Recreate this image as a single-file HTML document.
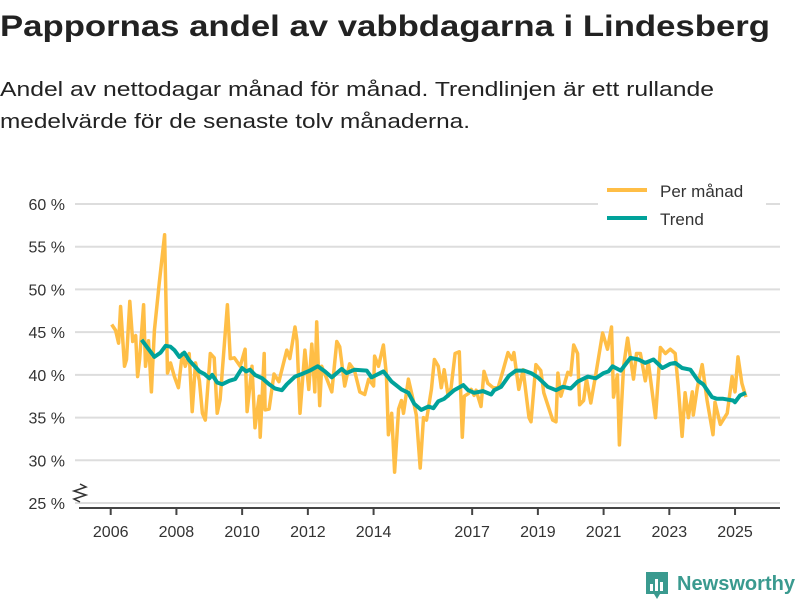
<!DOCTYPE html>
<html><head><meta charset="utf-8">
<style>
html,body{margin:0;padding:0;background:#fff;width:800px;height:600px;overflow:hidden}
svg{display:block;font-family:"Liberation Sans","DejaVu Sans",sans-serif}
</style></head>
<body>
<svg id="chart" width="800" height="600" viewBox="0 0 800 600">
<text x="0" y="36" font-size="30" font-weight="bold" fill="#222" textLength="770" lengthAdjust="spacingAndGlyphs">Pappornas andel av vabbdagarna i Lindesberg</text>
<text x="0" y="96" font-size="20.5" fill="#222" textLength="714" lengthAdjust="spacingAndGlyphs">Andel av nettodagar månad för månad. Trendlinjen är ett rullande</text>
<text x="0" y="128" font-size="20.5" fill="#222" textLength="470" lengthAdjust="spacingAndGlyphs">medelvärde för de senaste tolv månaderna.</text>
<g id="grid"></g>
<g id="yticks"></g>
<g id="xticks"></g>
<path d="M80,484 L86,487 L74,491 L86,495 L74,499 L80,502" fill="none" stroke="#333" stroke-width="1.5"/>
<g id="series"></g>
<g>
<rect x="598" y="174" width="168" height="60" fill="#fff"/>
<line x1="607" y1="190" x2="647" y2="190" stroke="#FFBE46" stroke-width="4"/>
<text x="660" y="197" font-size="17" fill="#333">Per månad</text>
<line x1="607" y1="218" x2="647" y2="218" stroke="#00A29A" stroke-width="4"/>
<text x="660" y="225" font-size="17" fill="#333">Trend</text>
</g>
<g>
<path d="M646,572 h22 v22 h-8 l-3,5 l-3,-5 h-8 z" fill="#3A9A8F"/>
<rect x="650" y="584" width="3" height="7" fill="#fff"/><rect x="655" y="579" width="3" height="12" fill="#fff"/><rect x="660" y="582" width="3" height="9" fill="#fff"/>
<text x="677" y="590" font-size="20" font-weight="bold" fill="#3A9A8F" textLength="118" lengthAdjust="spacingAndGlyphs">Newsworthy</text>
</g>
</svg>
<script>
const yTicks=[25,30,35,40,45,50,55,60];
const yTickLabels=["25 %","30 %","35 %","40 %","45 %","50 %","55 %","60 %"];
const xTicks=[2006,2008,2010,2012,2014,2017,2019,2021,2023,2025];
const xTickLabels=["2006","2008","2010","2012","2014","2017","2019","2021","2023","2025"];
const monthDates=[2006.03,2006.15,2006.24,2006.30,2006.42,2006.48,2006.58,2006.67,2006.76,2006.82,2006.88,2007.00,2007.06,2007.15,2007.24,2007.33,2007.48,2007.64,2007.73,2007.82,2007.94,2008.06,2008.18,2008.27,2008.39,2008.48,2008.58,2008.70,2008.79,2008.88,2009.03,2009.15,2009.24,2009.33,2009.55,2009.64,2009.76,2009.94,2010.09,2010.15,2010.30,2010.39,2010.52,2010.55,2010.67,2010.70,2010.82,2010.97,2011.12,2011.36,2011.45,2011.61,2011.67,2011.76,2011.91,2012.03,2012.12,2012.21,2012.27,2012.36,2012.42,2012.58,2012.73,2012.88,2012.97,2013.12,2013.27,2013.42,2013.58,2013.73,2013.85,2014.00,2014.03,2014.15,2014.30,2014.39,2014.45,2014.55,2014.64,2014.76,2014.85,2014.91,2015.06,2015.21,2015.30,2015.42,2015.52,2015.61,2015.76,2015.85,2015.97,2016.06,2016.15,2016.27,2016.36,2016.48,2016.61,2016.70,2016.76,2016.88,2016.97,2017.06,2017.12,2017.27,2017.36,2017.48,2017.64,2017.79,2017.94,2018.09,2018.21,2018.27,2018.42,2018.55,2018.73,2018.79,2018.94,2019.09,2019.18,2019.45,2019.55,2019.61,2019.70,2019.91,2020.00,2020.09,2020.21,2020.27,2020.39,2020.48,2020.61,2020.76,2020.97,2021.12,2021.24,2021.30,2021.42,2021.48,2021.61,2021.73,2021.91,2022.00,2022.12,2022.27,2022.36,2022.58,2022.73,2022.88,2023.03,2023.18,2023.27,2023.39,2023.48,2023.58,2023.70,2023.73,2023.85,2024.00,2024.15,2024.33,2024.39,2024.55,2024.76,2024.91,2025.00,2025.09,2025.21,2025.33];
const monthValues=[45.9,45.2,43.7,48,41,41.8,48.6,43.9,44.6,39.8,41.8,48.2,41,44,38,45.2,50.8,56.4,40.2,41.4,39.8,38.5,42.5,41,42.5,35.7,41.4,39.3,35.5,34.7,42.5,42,35.5,37.1,48.2,41.9,42,41,43,35.7,41,33.8,37.5,32.7,42.5,35.9,36,40.1,39.2,42.9,41.9,45.6,44,35.5,42.9,38.3,43.6,38,46.2,36.4,41,39.5,38,43.9,43.3,38.7,41.3,40.5,38,37.7,39.5,38.7,42.2,41,43.5,40,33,35.5,28.6,36,37,35.5,39.5,37,35.3,29.1,35,34.7,38.3,41.8,41,38.5,40.6,37.5,38.5,42.5,42.7,32.7,37.5,37.8,38.3,37.6,38.2,36.3,40.4,39,38.5,38.5,40.5,42.6,41.8,42.6,38.3,40.6,35,34.5,41.2,40.5,37.9,34.7,34.5,40.2,37.5,40.3,40,43.5,42.5,36.5,37,39.5,36.7,40,44.9,43,45.6,37.4,40,31.8,41,44.3,39.5,42.5,42.5,39.3,41.5,35,43.2,42.5,43,42.5,38.7,32.8,37.9,35,38,35.3,38.5,41.2,37,33,36.8,34.2,35.5,39.8,38,42.1,39,37.4];
const trendDates=[2006.94,2007.33,2007.52,2007.67,2007.82,2007.94,2008.09,2008.24,2008.39,2008.70,2008.85,2009.00,2009.09,2009.24,2009.39,2009.61,2009.79,2010.00,2010.12,2010.24,2010.39,2010.61,2010.82,2011.00,2011.21,2011.36,2011.61,2011.82,2012.06,2012.30,2012.52,2012.73,2013.03,2013.18,2013.42,2013.79,2013.94,2014.30,2014.55,2014.85,2015.06,2015.24,2015.45,2015.67,2015.82,2015.97,2016.15,2016.45,2016.73,2016.88,2017.06,2017.33,2017.58,2017.67,2017.88,2018.12,2018.33,2018.58,2018.79,2019.00,2019.30,2019.55,2019.76,2020.00,2020.21,2020.52,2020.76,2021.00,2021.15,2021.27,2021.52,2021.82,2022.06,2022.27,2022.52,2022.79,2023.03,2023.18,2023.39,2023.64,2023.88,2024.03,2024.30,2024.45,2024.64,2024.94,2025.00,2025.15,2025.33];
const trendValues=[44.1,42.1,42.6,43.4,43.3,42.9,42.1,42.6,41.7,40.4,40.1,39.6,40,39.1,38.9,39.3,39.5,40.8,40.4,40.6,40,39.6,38.9,38.4,38.2,38.9,39.8,40.1,40.5,41,40.4,39.7,40.7,40.2,40.6,40.5,39.7,40.4,39.2,38.3,37.9,36.6,35.9,36.3,36.1,36.9,37.2,38.2,38.8,38.2,37.9,38.1,37.7,38.2,38.6,39.9,40.5,40.5,40.2,39.7,38.6,38.2,38.6,38.4,39.2,39.8,39.6,40.2,40.4,41,40.5,42,41.8,41.4,41.8,40.8,41.3,41.4,40.8,40.6,39.3,38.9,37.4,37.2,37.2,37,36.8,37.6,37.9];

const NS='http://www.w3.org/2000/svg';
function X(yr){return 110.7+(yr-2006)*32.86;}
function Y(v){return 503-(v-25)*(299/35);}
function mk(tag,attrs,parent){const e=document.createElementNS(NS,tag);for(const k in attrs)e.setAttribute(k,attrs[k]);parent.appendChild(e);return e;}
const grid=document.getElementById('grid'),yt=document.getElementById('yticks'),xt=document.getElementById('xticks'),ser=document.getElementById('series');
yTicks.forEach((v,i)=>{
  const l=mk('line',{x1:75,x2:780,y1:Y(v),y2:Y(v),stroke:'#dddddd','stroke-width':2},grid);
  
  
  const t=mk('text',{x:65,y:Y(v)+6,'text-anchor':'end','font-size':16,fill:'#333'},yt);
  t.textContent=yTickLabels[i];
  
  
});
const ax=mk('line',{x1:79,x2:780,y1:508,y2:508,stroke:'#444','stroke-width':2},xt);


xTicks.forEach((yr,i)=>{
  const tk=mk('line',{x1:X(yr),x2:X(yr),y1:508,y2:515,stroke:'#444','stroke-width':2},xt);
  
  
  const t=mk('text',{x:X(yr),y:537,'text-anchor':'middle','font-size':16,fill:'#333'},xt);
  t.textContent=xTickLabels[i];
  
  
});
function path(ds,vs){return ds.map((d,i)=>(i?'L':'M')+X(d).toFixed(1)+','+Y(vs[i]).toFixed(1)).join(' ');}
const p1=mk('path',{d:path(monthDates,monthValues),fill:'none',stroke:'#FFBE46','stroke-width':3.5,'stroke-linejoin':'round'},ser);


const p2=mk('path',{d:path(trendDates,trendValues),fill:'none',stroke:'#00A29A','stroke-width':4,'stroke-linejoin':'round'},ser);


</script>
</body></html>
